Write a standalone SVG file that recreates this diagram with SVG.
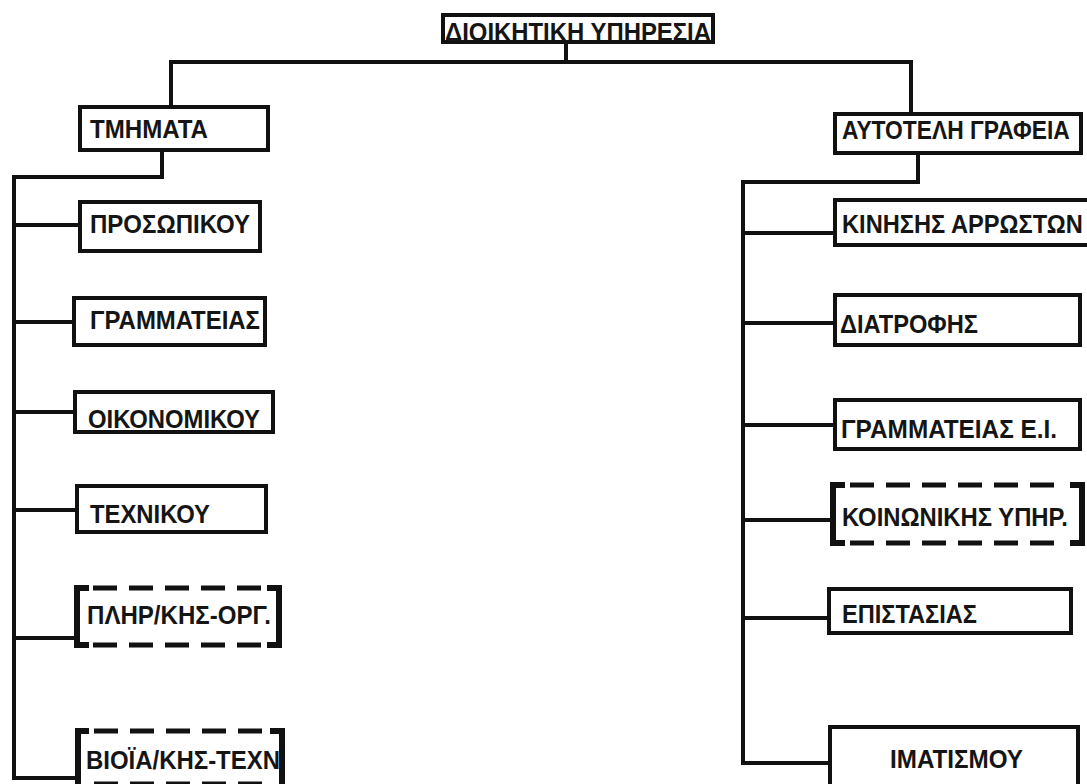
<svg xmlns="http://www.w3.org/2000/svg" width="1087" height="784" viewBox="0 0 1087 784">
<style>
.box{fill:#fff;stroke:#111;stroke-width:4}
.br{fill:none;stroke:#111;stroke-width:6;stroke-linejoin:miter}
.dash{fill:none;stroke:#111;stroke-width:5;stroke-dasharray:24 12}
.ln{fill:none;stroke:#111;stroke-width:4;stroke-linecap:square}
text{font-family:"Liberation Sans",Arial,sans-serif;font-size:25px;font-weight:bold;fill:#151515}
</style>
<rect width="1087" height="784" fill="#fff"/>
<g id="connectors">
<path class="ln" d="M566,44 V62 M171,62 H911 M171,62 V105 M911,62 V112"/>
<path class="ln" d="M162,152 V177 H14 V778 H77"/>
<path class="ln" d="M14,225 H78 M14,322 H74 M14,412 H75 M14,510 H77 M14,638 H76"/>
<path class="ln" d="M918,155 V182 H743 V763 H830"/>
<path class="ln" d="M743,233 H835 M743,323 H835 M743,425 H835 M743,520 H830 M743,618 H829"/>
</g>
<g id="n-dioikitiki">
<rect class="box" x="443" y="15" width="270" height="27"/>
<text x="445" y="41" textLength="266" lengthAdjust="spacingAndGlyphs">ΔΙΟΙΚΗΤΙΚΗ ΥΠΗΡΕΣΙΑ</text>
</g>
<g id="n-tmimata">
<rect class="box" x="80" y="107" width="188" height="43"/>
<text x="90" y="138" textLength="118" lengthAdjust="spacingAndGlyphs">ΤΜΗΜΑΤΑ</text>
</g>
<g id="n-prosopikou">
<rect class="box" x="80" y="202" width="180" height="49"/>
<text x="90" y="233" textLength="160" lengthAdjust="spacingAndGlyphs">ΠΡΟΣΩΠΙΚΟΥ</text>
</g>
<g id="n-grammateias">
<rect class="box" x="74" y="298" width="191" height="47"/>
<text x="90" y="329" textLength="170" lengthAdjust="spacingAndGlyphs">ΓΡΑΜΜΑΤΕΙΑΣ</text>
</g>
<g id="n-oikonomikou">
<rect class="box" x="75" y="392" width="198" height="40"/>
<text x="88" y="428" textLength="172" lengthAdjust="spacingAndGlyphs">ΟΙΚΟΝΟΜΙΚΟΥ</text>
</g>
<g id="n-technikou">
<rect class="box" x="77" y="486" width="189" height="46"/>
<text x="90" y="523" textLength="120" lengthAdjust="spacingAndGlyphs">ΤΕΧΝΙΚΟΥ</text>
</g>
<g id="n-plir">
<path class="br" d="M89,588 H77 V645 H89"/>
<path class="br" d="M267,588 H279 V645 H267"/>
<path class="dash" d="M93,588 H263 M93,645 H263"/>
<text x="87" y="624" textLength="184" lengthAdjust="spacingAndGlyphs">ΠΛΗΡ/ΚΗΣ-ΟΡΓ.</text>
</g>
<g id="n-vioia">
<path class="br" d="M89,731 H78 V790"/>
<path class="br" d="M270,731 H282 V790"/>
<path class="dash" d="M94,731 H266 M94,784 H266"/>
<text x="86" y="769" textLength="194" lengthAdjust="spacingAndGlyphs">ΒΙΟΪΑ/ΚΗΣ-ΤΕΧΝ</text>
</g>
<g id="n-autotelh">
<rect class="box" x="835" y="114" width="246" height="39"/>
<text transform="translate(842,139) scale(0.85,1)" x="0" y="0" textLength="268" lengthAdjust="spacingAndGlyphs">ΑΥΤΟΤΕΛΗ ΓΡΑΦΕΙΑ</text>
</g>
<g id="n-kinisis">
<rect class="box" x="835" y="200" width="260" height="45"/>
<text transform="translate(842,233) scale(0.8,1)" x="0" y="0" textLength="301" lengthAdjust="spacingAndGlyphs">ΚΙΝΗΣΗΣ  ΑΡΡΩΣΤΩΝ</text>
</g>
<g id="n-diatrofis">
<rect class="box" x="835" y="295" width="245" height="50"/>
<text x="840" y="333" textLength="138" lengthAdjust="spacingAndGlyphs">ΔΙΑΤΡΟΦΗΣ</text>
</g>
<g id="n-grammateias-ei">
<rect class="box" x="835" y="400" width="245" height="49"/>
<text x="841" y="438" textLength="216" lengthAdjust="spacingAndGlyphs">ΓΡΑΜΜΑΤΕΙΑΣ Ε.Ι.</text>
</g>
<g id="n-koinonikis">
<path class="br" d="M845,485 H833 V543 H845"/>
<path class="br" d="M1070,485 H1082 V543 H1070"/>
<path class="dash" d="M850,485 H1066 M850,543 H1066"/>
<text x="842" y="526" textLength="226" lengthAdjust="spacingAndGlyphs">ΚΟΙΝΩΝΙΚΗΣ ΥΠΗΡ.</text>
</g>
<g id="n-epistasias">
<rect class="box" x="829" y="589" width="242" height="44"/>
<text x="842" y="623" textLength="135" lengthAdjust="spacingAndGlyphs">ΕΠΙΣΤΑΣΙΑΣ</text>
</g>
<g id="n-imatismou">
<rect class="box" x="830" y="727" width="248" height="65"/>
<text x="890" y="768" textLength="133" lengthAdjust="spacingAndGlyphs">ΙΜΑΤΙΣΜΟΥ</text>
</g>
</svg>
